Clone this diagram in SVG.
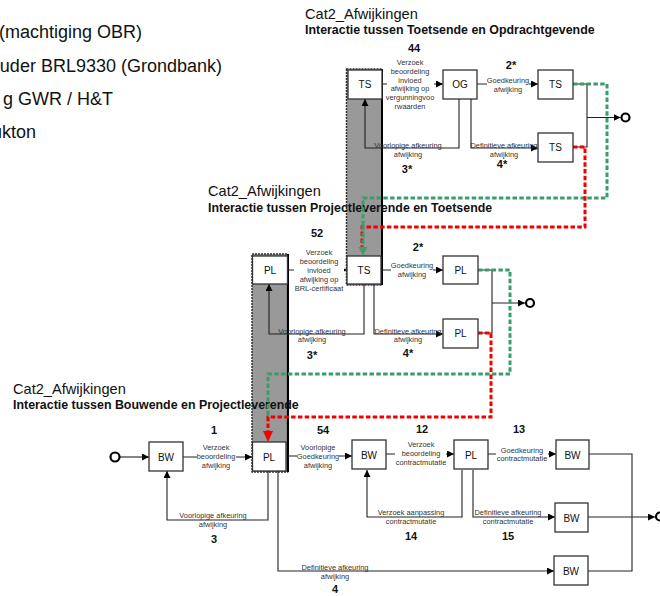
<svg xmlns="http://www.w3.org/2000/svg" width="660" height="596" viewBox="0 0 660 596">
<style>
  .hdr{font-family:"Liberation Sans",Arial,sans-serif;font-size:18px;fill:#111}
  .t1{font-family:"Liberation Sans",Arial,sans-serif;font-size:14.6px;fill:#111}
  .t2{font-family:"Liberation Sans",Arial,sans-serif;font-size:12.4px;font-weight:bold;fill:#111}
  .box{fill:#fff;stroke:#333;stroke-width:1.3}
  .bt{font-family:"Liberation Sans",Arial,sans-serif;font-size:10px;fill:#111;text-anchor:middle}
  .lb{font-family:"Liberation Sans",Arial,sans-serif;font-size:7.4px;fill:#333;text-anchor:middle}
  .num{font-family:"Liberation Sans",Arial,sans-serif;font-size:11px;font-weight:bold;fill:#111;text-anchor:middle}
  .ln{fill:none;stroke:#222;stroke-width:1.1}
  .bg{fill:#fff}
  .col{fill:#999;stroke:#333;stroke-width:1.5;stroke-dasharray:2 1}
  .gd{fill:none;stroke:#3a9e6c;stroke-width:3;stroke-dasharray:4.5 2.3}
  .rd{fill:none;stroke:#f20000;stroke-width:3;stroke-dasharray:4.5 2.3}
  .circ{fill:#fff;stroke:#000;stroke-width:2.2}
</style>
<defs>
  <marker id="ah" viewBox="0 0 8 8" refX="8" refY="4" markerWidth="7" markerHeight="7" markerUnits="userSpaceOnUse" orient="auto">
    <path d="M0,0 L8,4 L0,8 z" fill="#000"/>
  </marker>
</defs>

<g id="header">
  <text class="hdr" x="142" y="38" text-anchor="end">(machtiging OBR)</text>
  <text class="hdr" x="222" y="71.5" text-anchor="end">uder BRL9330 (Grondbank)</text>
  <text class="hdr" x="113" y="105" text-anchor="end">g GWR / H&amp;T</text>
  <text class="hdr" x="36" y="138" text-anchor="end">ukton</text>
</g>

<g id="columns">
  <rect class="col" x="346.5" y="69" width="35.5" height="216"/>
  <line x1="382" y1="69" x2="382" y2="285" stroke="#000" stroke-width="2"/>
  <rect class="col" x="252" y="254" width="35.5" height="218"/>
  <line x1="288" y1="254" x2="288" y2="472" stroke="#000" stroke-width="2"/>
</g>

<g id="titles">
  <text class="t1" x="305" y="19">Cat2_Afwijkingen</text>
  <text class="t2" x="305" y="34">Interactie tussen Toetsende en Opdrachtgevende</text>
  <text class="t1" x="208" y="196">Cat2_Afwijkingen</text>
  <text class="t2" x="208" y="212">Interactie tussen Projectleverende en Toetsende</text>
  <text class="t1" x="13" y="394">Cat2_Afwijkingen</text>
  <text class="t2" x="13" y="409">Interactie tussen Bouwende en Projectleverende</text>
</g>

<g id="connectors">
  <!-- top -->
  <path class="ln" d="M382,84 H443" marker-end="url(#ah)"/>
  <path class="ln" d="M477,84 H538" marker-end="url(#ah)"/>
  <path class="ln" d="M459,99 V148 H365 V99" marker-end="url(#ah)"/>
  <path class="ln" d="M471,99 V148 H538" marker-end="url(#ah)"/>
  <path class="ln" d="M573,84 H587 V147 H573 M587,117.5 H620.5" marker-end="url(#ah)"/>
  <!-- middle -->
  <path class="ln" d="M287,270 H347" marker-end="url(#ah)"/>
  <path class="ln" d="M381,270 H443" marker-end="url(#ah)"/>
  <path class="ln" d="M364,284 V334 H269 V284" marker-end="url(#ah)"/>
  <path class="ln" d="M374,284 V334 H443" marker-end="url(#ah)"/>
  <path class="ln" d="M478,270 H492 V333 H478 M492,303 H525" marker-end="url(#ah)"/>
  <!-- bottom -->
  <path class="ln" d="M120,457 H149" marker-end="url(#ah)"/>
  <path class="ln" d="M183,457 H252" marker-end="url(#ah)"/>
  <path class="ln" d="M286,456 H352" marker-end="url(#ah)"/>
  <path class="ln" d="M268,471 V520 H167 V471" marker-end="url(#ah)"/>
  <path class="ln" d="M278,471 V571 H554" marker-end="url(#ah)"/>
  <path class="ln" d="M386,454 H454" marker-end="url(#ah)"/>
  <path class="ln" d="M488,454 H556" marker-end="url(#ah)"/>
  <path class="ln" d="M462,470 V517 H367 V470" marker-end="url(#ah)"/>
  <path class="ln" d="M473,470 V517 H555" marker-end="url(#ah)"/>
  <path class="ln" d="M589,454 H632 V571 H588"/>
  <path class="ln" d="M588,517 H655" marker-end="url(#ah)"/>
  <!-- dashed feedback -->
  <path class="gd" d="M573,84 H607 V198 H363 V228"/>
  <path class="rd" d="M573,147 H585 V227 H362 V247"/>
  <path class="gd" d="M363,226 V248"/>
  <polygon points="358.5,247 367.5,247 363,256" fill="#4a9a6a"/>
  <path class="gd" d="M478,270 H510 V374 H268 V422"/>
  <path class="rd" d="M478,333 H491 V417 H268 V433"/>
  <polygon points="263,431 273,431 268,442" fill="#f20000"/>
</g>

<g id="labels">
  <rect class="bg" x="387" y="57" width="47" height="55"/>
  <text class="lb"><tspan x="410" y="65">Verzoek</tspan><tspan x="410" y="73.8">beoordeling</tspan><tspan x="410" y="82.6">invloed</tspan><tspan x="410" y="91.4">afwijking  op</tspan><tspan x="410" y="100.2">vergunningvoo</tspan><tspan x="410" y="109">rwaarden</tspan></text>
  <rect class="bg" x="487" y="76" width="42" height="17"/>
  <text class="lb"><tspan x="508" y="82.6">Goedkeuring</tspan><tspan x="508" y="91.6">afwijking</tspan></text>
  <text class="lb"><tspan x="408" y="147.6">Voorlopige afkeuring</tspan><tspan x="408" y="156.6">afwijking</tspan></text>
  <text class="lb"><tspan x="504" y="147.6">Definitieve afkeuring</tspan><tspan x="504" y="156.6">afwijking</tspan></text>

  <rect class="bg" x="294" y="246" width="50" height="47"/>
  <text class="lb"><tspan x="319" y="254.6">Verzoek</tspan><tspan x="319" y="263.6">beoordeling</tspan><tspan x="319" y="272.6">invloed</tspan><tspan x="319" y="281.6">afwijking op</tspan><tspan x="319" y="290.6">BRL-certificaat</tspan></text>
  <rect class="bg" x="391" y="260" width="42" height="18"/>
  <text class="lb"><tspan x="412" y="267.6">Goedkeuring</tspan><tspan x="412" y="276.6">afwijking</tspan></text>
  <text class="lb"><tspan x="312" y="333.6">Voorlopige afkeuring</tspan><tspan x="312" y="341.6">afwijking</tspan></text>
  <text class="lb"><tspan x="408" y="333.6">Definitieve afkeuring</tspan><tspan x="408" y="341.6">afwijking</tspan></text>

  <rect class="bg" x="197" y="443" width="39" height="27"/>
  <text class="lb"><tspan x="216" y="450.3">Verzoek</tspan><tspan x="216" y="459.3">beoordeling</tspan><tspan x="216" y="468.3">afwijking</tspan></text>
  <rect class="bg" x="297" y="443" width="42" height="27"/>
  <text class="lb"><tspan x="318" y="450.3">Voorlopige</tspan><tspan x="318" y="459.3">Goedkeuring</tspan><tspan x="318" y="468.3">afwijking</tspan></text>
  <text class="lb"><tspan x="213" y="517.6">Voorlopige afkeuring</tspan><tspan x="213" y="526.6">afwijking</tspan></text>
  <text class="lb"><tspan x="335" y="569.6">Definitieve afkeuring</tspan><tspan x="335" y="578.6">afwijking</tspan></text>
  <rect class="bg" x="395" y="440" width="51" height="27"/>
  <text class="lb"><tspan x="421" y="447">Verzoek</tspan><tspan x="421" y="455.8">beoordeling</tspan><tspan x="421" y="464.8">contractmutatie</tspan></text>
  <rect class="bg" x="496" y="445" width="52" height="18"/>
  <text class="lb"><tspan x="522" y="452.6">Goedkeuring</tspan><tspan x="522" y="461">contractmutatie</tspan></text>
  <text class="lb"><tspan x="411" y="515.3">Verzoek aanpassing</tspan><tspan x="411" y="524.3">contractmutatie</tspan></text>
  <text class="lb"><tspan x="508" y="515.3">Definitieve afkeuring</tspan><tspan x="508" y="524.3">contractmutatie</tspan></text>
</g>

<g id="numbers">
  <text class="num" x="414" y="52">44</text>
  <text class="num" x="511" y="69">2*</text>
  <text class="num" x="407" y="173">3*</text>
  <text class="num" x="502" y="168">4*</text>
  <text class="num" x="317" y="237">52</text>
  <text class="num" x="418" y="251">2*</text>
  <text class="num" x="312" y="359">3*</text>
  <text class="num" x="408" y="357">4*</text>
  <text class="num" x="214" y="434">1</text>
  <text class="num" x="323" y="434">54</text>
  <text class="num" x="422" y="433">12</text>
  <text class="num" x="519" y="433">13</text>
  <text class="num" x="214" y="543">3</text>
  <text class="num" x="335" y="593">4</text>
  <text class="num" x="411" y="540">14</text>
  <text class="num" x="508" y="540">15</text>
</g>

<g id="n_ts_top"><rect class="box" x="348" y="70" width="34" height="29"/><text class="bt" x="365" y="88">TS</text></g>
<g id="n_og"><rect class="box" x="443" y="70" width="34" height="29"/><text class="bt" x="460" y="88">OG</text></g>
<g id="n_ts_ok"><rect class="box" x="538" y="70" width="35" height="29"/><text class="bt" x="555.5" y="88">TS</text></g>
<g id="n_ts_nok"><rect class="box" x="538" y="133" width="35" height="29"/><text class="bt" x="555.5" y="151">TS</text></g>
<g id="n_end_top"><circle class="circ" cx="625.5" cy="117.5" r="4"/></g>

<g id="n_pl_mid"><rect class="box" x="252.5" y="256" width="35" height="28"/><text class="bt" x="270" y="273.5">PL</text></g>
<g id="n_ts_mid"><rect class="box" x="347" y="256" width="34" height="28"/><text class="bt" x="364" y="273.5">TS</text></g>
<g id="n_pl_ok"><rect class="box" x="443" y="256" width="35" height="28"/><text class="bt" x="460.5" y="273.5">PL</text></g>
<g id="n_pl_nok"><rect class="box" x="443" y="319" width="35" height="29"/><text class="bt" x="460.5" y="337">PL</text></g>
<g id="n_end_mid"><circle class="circ" cx="530" cy="303" r="4"/></g>

<g id="n_start"><circle class="circ" cx="115" cy="457" r="4.5"/></g>
<g id="n_bw1"><rect class="box" x="149" y="442" width="34" height="29"/><text class="bt" x="166" y="460.5">BW</text></g>
<g id="n_pl_bot"><rect class="box" x="252.5" y="442" width="33.5" height="29"/><text class="bt" x="269" y="460.5">PL</text></g>
<g id="n_bw2"><rect class="box" x="352" y="440" width="34" height="29"/><text class="bt" x="369" y="458.5">BW</text></g>
<g id="n_pl3"><rect class="box" x="454" y="440" width="34" height="29"/><text class="bt" x="471" y="458.5">PL</text></g>
<g id="n_bw3"><rect class="box" x="556" y="440" width="33" height="29"/><text class="bt" x="572.5" y="458.5">BW</text></g>
<g id="n_bw4"><rect class="box" x="555" y="503" width="33" height="29"/><text class="bt" x="571.5" y="521.5">BW</text></g>
<g id="n_bw5"><rect class="box" x="554" y="556" width="34" height="29"/><text class="bt" x="571" y="574.5">BW</text></g>
<g id="n_end_bot"><circle class="circ" cx="660" cy="516.5" r="4"/></g>
</svg>
